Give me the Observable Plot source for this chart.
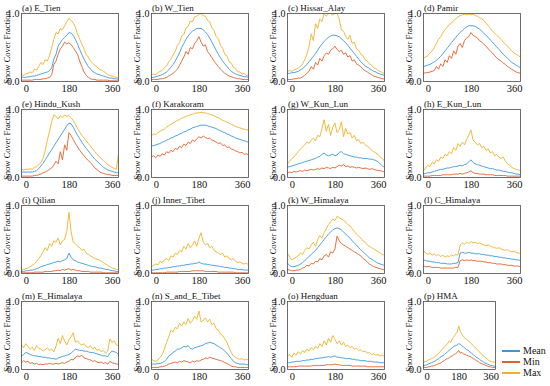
<!DOCTYPE html>
<html><head><meta charset="utf-8">
<script src="https://cdn.jsdelivr.net/npm/d3@7"></script>
<script src="https://cdn.jsdelivr.net/npm/@observablehq/plot@0.6"></script>
<style>
body{margin:0;background:#fff}
#chart{position:relative;width:550px;height:386px;font-family:"Liberation Serif","Times New Roman",serif;overflow:hidden}
#chart svg{position:absolute}
.ttl{position:absolute;font:9px/10px "Liberation Serif",serif;color:#111;white-space:nowrap}
.leg{position:absolute;font:10px/10px "Liberation Serif",serif;color:#111;height:10px;white-space:nowrap}
.leg b{position:absolute;left:0;top:4px;width:18px;height:2px}
.leg span{position:absolute;left:21px;top:0}
</style>
</head><body><div id="chart"></div>
<script>
// day positions of the sampled values (every 9 days)
const days = d3.range(-20, 386, 9);
const xTicks = [0, 180, 360];
const yTicks = [0, 1];
const seriesNames = ["Mean", "Min", "Max"];
const seriesColors = ["#3b97dc", "#e2612b", "#f2b12a"];
const titles = ["(a) E_Tien","(b) W_Tien","(c) Hissar_Alay","(d) Pamir","(e) Hindu_Kush","(f) Karakoram","(g) W_Kun_Lun","(h) E_Kun_Lun","(i) Qilian","(j) Inner_Tibet","(k) W_Himalaya","(l) C_Himalaya","(m) E_Himalaya","(n) S_and_E_Tibet","(o) Hengduan","(p) HMA"];

// values in percent of snow cover
const eTienMean=[7,6,6,7,7,8,8,9,10,11,12,13,14,16,20,33,40,52,57,62,65,68,72,71,68,62,55,47,40,33,27,22,18,15,13,11,10,9,8,7,6,5,5,4,4,3];
const eTienMin=[2,2,2,2,2,2,3,3,3,3,4,4,5,6,10,25,30,40,48,52,58,55,57,54,50,45,40,30,22,14,9,6,4,3,3,2,2,2,2,2,2,1,1,1,1,1];
const eTienMax=[10,9,11,12,14,13,18,17,22,28,25,32,30,38,50,62,72,70,78,76,82,88,93,90,86,80,70,62,55,48,40,36,30,27,24,22,18,17,15,13,10,9,8,7,6,5];
const wTienMean=[6,6,7,8,9,10,12,14,17,21,25,30,36,42,50,56,62,67,71,74,76,78,78,78,76,73,69,64,58,52,46,40,35,30,26,22,18,15,13,11,10,9,8,7,7,6];
const wTienMin=[3,3,3,3,4,4,5,6,8,10,12,15,18,24,30,36,44,40,50,48,56,60,66,58,52,54,44,40,35,30,26,22,18,15,12,10,8,7,6,5,4,4,3,3,3,3];
const wTienMax=[10,11,10,13,15,16,21,23,29,33,39,44,53,57,67,69,79,81,89,88,95,96,99,100,97,96,90,88,79,75,66,63,53,49,40,38,29,27,21,19,14,14,11,12,9,9];
const hissarMean=[12,12,13,13,14,15,17,19,22,25,29,33,37,41,46,51,55,59,62,65,67,68,68,67,66,63,60,57,53,49,45,41,37,33,29,26,23,21,19,17,15,14,12,11,10,9];
const hissarMin=[3,3,3,4,4,5,5,7,9,12,15,22,18,28,24,34,30,38,42,40,46,48,52,47,44,46,40,42,36,38,30,32,26,24,22,18,16,14,12,10,8,7,6,5,4,4];
const hissarMax=[15,16,15,17,18,20,22,26,32,40,52,70,60,85,78,92,88,100,96,100,100,98,100,100,92,76,74,66,62,68,56,58,48,46,40,38,32,30,26,24,20,19,16,15,13,12];
const pamirMean=[22,23,24,25,27,29,31,34,37,41,45,49,53,57,61,65,69,72,75,78,80,82,82,82,81,79,77,74,71,68,65,61,58,54,51,47,44,40,37,34,31,28,26,24,22,20];
const pamirMin=[12,13,13,14,15,16,22,18,26,22,32,28,38,34,45,40,52,56,50,60,64,66,72,68,66,64,60,58,55,52,48,45,42,38,35,32,30,27,25,22,20,18,16,14,13,12];
const pamirMax=[34,36,38,42,45,50,56,62,66,72,76,80,84,86,90,92,95,97,98,99,98,99,98,99,97,96,94,92,90,86,82,78,74,71,68,65,62,58,55,52,48,45,42,40,38,36];
const hinduMean=[8,8,8,8,8,8,9,10,13,17,21,26,31,36,41,46,51,56,61,66,71,76,80,79,74,68,62,57,52,47,43,39,35,31,27,24,21,18,15,13,11,10,9,8,7,7];
const hinduMin=[2,2,2,2,2,2,3,3,4,5,7,8,10,12,14,18,24,20,38,26,48,40,66,62,56,50,45,40,36,32,28,25,22,18,14,12,9,7,6,5,4,4,3,3,3,3];
const hinduMax=[12,11,12,12,13,12,15,16,19,22,28,40,55,68,82,92,90,86,91,88,92,90,91,88,84,78,72,67,62,58,54,50,46,42,38,34,31,28,25,22,19,17,15,13,12,35];
const karaMean=[46,47,48,49,50,52,53,55,56,58,59,61,62,64,65,67,68,70,71,73,74,75,76,77,77,77,76,75,74,73,72,70,69,67,66,64,63,61,60,58,57,56,55,54,53,52];
const karaMin=[30,32,29,33,31,35,33,38,36,40,38,43,41,46,44,49,47,52,50,55,53,57,60,58,61,59,57,58,55,54,52,50,51,47,48,44,45,42,41,39,38,36,37,34,35,33];
const karaMax=[62,64,63,66,68,70,71,74,76,78,80,82,84,85,87,88,90,91,92,93,94,95,95,96,95,95,94,93,92,91,89,88,86,84,83,81,80,78,77,75,74,73,72,71,70,70];
const wKunMean=[15,16,17,18,19,20,21,22,23,24,25,26,27,28,30,31,34,36,33,32,33,34,32,33,37,38,35,34,33,32,31,30,30,29,29,28,28,28,27,27,26,25,23,20,17,15];
const wKunMin=[7,8,7,9,8,9,10,9,11,10,11,12,11,12,13,12,14,13,15,14,13,15,14,16,18,17,19,16,17,15,16,15,14,15,14,13,14,13,12,13,12,11,10,10,9,8];
const wKunMax=[20,24,28,30,34,38,42,45,48,52,50,55,58,54,62,60,72,85,68,78,62,74,80,66,70,82,60,72,64,66,58,62,54,56,50,52,48,46,44,40,38,36,34,30,28,24];
const eKunMean=[5,6,7,7,8,9,10,11,12,12,13,14,14,15,16,16,17,18,17,19,20,23,26,22,20,19,18,17,16,15,14,13,13,12,11,11,10,9,9,8,7,7,6,5,5,4];
const eKunMin=[2,2,2,2,3,3,3,3,3,4,4,4,4,4,5,5,5,6,5,6,7,8,10,7,6,6,5,5,5,4,4,4,4,3,3,3,3,3,3,2,2,2,2,2,2,2];
const eKunMax=[10,14,18,16,22,20,26,24,30,28,34,32,38,35,44,40,50,46,52,48,56,62,70,55,52,48,50,44,46,40,42,36,38,32,34,30,28,30,24,20,18,15,13,12,11,10];
const qilianMean=[3,3,4,4,5,5,6,7,8,10,11,12,13,14,15,16,17,18,17,19,20,22,30,24,20,19,17,16,15,14,13,12,11,10,10,9,8,8,7,6,6,5,4,4,3,3];
const qilianMin=[1,1,1,1,1,1,2,2,2,2,2,3,3,3,3,4,4,5,4,6,5,6,7,5,6,5,4,4,3,3,3,3,2,2,2,2,2,2,1,1,1,1,1,1,1,1];
const qilianMax=[5,6,7,8,10,12,14,18,22,26,32,38,34,44,40,48,46,52,42,48,50,62,90,62,46,44,40,38,34,36,30,28,26,24,22,21,20,18,16,14,12,10,8,7,6,5];
const innerMean=[5,5,6,6,7,7,8,8,9,9,10,10,11,11,12,12,13,13,14,14,15,15,17,15,14,14,13,13,12,12,11,11,10,10,9,9,8,8,7,7,6,6,6,5,5,5];
const innerMin=[1,1,1,1,1,1,1,2,2,2,2,2,2,3,3,3,3,3,3,4,4,4,4,4,4,3,3,3,3,3,3,2,2,2,2,2,2,2,2,1,1,1,1,1,1,1];
const innerMax=[10,12,14,13,18,16,20,22,19,26,24,30,28,34,32,40,36,44,38,42,48,40,52,60,46,42,44,38,40,34,32,30,28,30,24,26,22,20,22,18,16,17,15,14,15,13];
const wHimMean=[15,12,10,10,11,12,14,16,19,22,25,28,31,34,38,42,46,50,54,58,61,64,66,67,66,64,61,58,55,52,48,45,42,38,35,32,29,26,23,21,19,17,15,14,13,12];
const wHimMin=[6,5,4,4,5,5,6,8,9,12,11,15,14,18,17,22,20,26,28,24,32,30,36,55,48,44,42,40,38,36,34,32,30,28,26,22,20,17,14,12,10,9,8,7,6,6];
const wHimMax=[30,24,20,22,24,26,30,28,34,38,36,42,46,40,50,56,52,60,66,72,76,80,78,84,82,80,78,76,72,70,66,62,58,55,52,48,46,42,40,38,36,34,32,30,28,27];
const cHimMean=[20,19,18,18,17,17,16,16,15,15,15,14,14,14,15,15,16,30,31,30,30,31,30,30,29,29,29,28,28,27,27,26,26,25,25,24,24,23,23,22,22,21,21,20,20,19];
const cHimMin=[11,10,10,10,9,9,9,9,8,8,8,8,8,8,8,9,9,19,20,19,20,19,20,19,19,18,18,18,17,17,16,16,15,15,14,14,14,13,13,12,12,12,11,11,11,10];
const cHimMax=[34,30,28,30,27,29,26,28,25,27,24,26,25,27,26,28,27,42,45,43,46,44,47,45,46,44,45,43,42,41,42,40,39,38,37,38,36,35,34,35,33,32,33,31,30,30];
const eHimMean=[20,22,25,24,22,21,20,20,19,19,18,18,17,17,16,16,15,17,18,19,20,21,22,24,27,30,29,28,28,27,27,26,25,25,24,23,22,21,20,20,19,24,27,26,25,22];
const eHimMin=[10,13,11,12,9,10,8,9,7,8,7,8,8,9,8,8,9,8,9,10,9,11,12,15,14,18,20,19,21,17,16,15,14,12,13,11,10,11,9,10,8,12,10,9,8,8];
const eHimMax=[36,32,38,34,30,33,28,35,31,30,27,29,32,28,30,26,34,46,38,50,42,36,44,48,54,40,42,38,36,38,34,32,35,30,33,28,30,26,28,24,27,45,40,42,36,35];
const seTibMean=[8,8,8,9,9,10,12,15,20,22,25,27,30,30,32,34,33,35,31,30,32,33,34,35,36,38,39,40,39,38,36,34,32,30,27,24,20,16,12,10,9,8,8,8,7,7];
const seTibMin=[3,3,3,3,4,4,5,6,8,9,10,11,10,12,11,13,12,11,10,12,11,13,12,14,15,17,16,18,17,16,15,14,13,12,10,9,7,5,4,4,3,3,3,3,3,3];
const seTibMax=[15,13,12,14,18,22,30,40,48,58,55,62,60,68,64,70,66,75,68,72,78,74,86,70,72,76,70,74,66,68,60,58,52,50,45,40,32,25,20,18,16,15,16,14,15,14];
const hengMean=[10,10,11,11,12,12,12,13,13,14,14,15,15,16,16,17,17,18,18,19,18,19,20,18,18,17,17,16,16,16,15,15,14,14,13,13,13,12,12,12,11,11,11,10,10,10];
const hengMin=[4,4,4,4,4,5,5,5,5,5,5,5,6,6,6,6,6,6,7,7,7,7,8,7,7,6,6,6,6,6,5,5,5,5,5,5,5,4,4,4,4,4,4,4,4,4];
const hengMax=[20,22,18,24,21,26,23,28,25,30,27,32,29,34,31,38,34,42,36,46,40,50,44,38,42,36,40,34,36,32,34,30,31,28,29,26,27,24,25,22,23,21,22,20,21,19];
const hmaMean=[6,6,7,8,9,10,11,12,14,15,17,19,20,22,24,26,28,30,32,34,35,36,38,37,35,33,31,29,28,26,24,22,20,18,17,15,13,12,10,9,8,7,6,6,5,5];
const hmaMin=[3,3,3,4,4,5,5,6,7,8,9,10,12,13,15,16,17,19,20,22,23,25,28,24,25,23,22,21,20,19,18,16,15,13,12,10,9,8,7,6,5,4,4,3,3,3];
const hmaMax=[11,12,12,14,15,16,17,19,21,23,25,28,30,33,35,38,42,40,45,48,52,55,64,56,52,48,46,44,42,40,38,35,33,31,28,26,23,21,19,17,15,13,12,11,11,10];

const panelSeries = [
  [eTienMean,eTienMin,eTienMax],[wTienMean,wTienMin,wTienMax],[hissarMean,hissarMin,hissarMax],[pamirMean,pamirMin,pamirMax],
  [hinduMean,hinduMin,hinduMax],[karaMean,karaMin,karaMax],[wKunMean,wKunMin,wKunMax],[eKunMean,eKunMin,eKunMax],
  [qilianMean,qilianMin,qilianMax],[innerMean,innerMin,innerMax],[wHimMean,wHimMin,wHimMax],[cHimMean,cHimMin,cHimMax],
  [eHimMean,eHimMin,eHimMax],[seTibMean,seTibMin,seTibMax],[hengMean,hengMin,hengMax],[hmaMean,hmaMin,hmaMax]
];

const colLeft = [21, 151, 287, 423];
const rowTop = [13, 109, 205, 301];
const chart = document.getElementById("chart");
const mL = 26, mR = 6, mT = 14, mB = 18;

panelSeries.forEach((ser, i) => {
  const col = i % 4, row = Math.floor(i / 4);
  const fw = i === 15 ? 72 : 97, fh = 68;
  const data = [];
  ser.forEach((vals, s) => vals.forEach((v, k) => data.push({day: days[k], v: v / 100, s: seriesNames[s]})));
  const svg = Plot.plot({
    width: fw + mL + mR, height: fh + mT + mB,
    marginLeft: mL, marginRight: mR, marginTop: mT, marginBottom: mB,
    style: {background: "transparent", overflow: "visible", fontFamily: "'Liberation Serif', serif", fontSize: "10px", color: "#111"},
    x: {domain: [-20, 385]},
    y: {domain: [0, 1]},
    color: {domain: seriesNames, range: seriesColors},
    marks: [
      Plot.axisX({ticks: xTicks, tickSize: 0, tickPadding: 3, label: null, fontSize: 10.5}),
      Plot.axisY({ticks: yTicks, tickSize: 0, tickPadding: 2, label: null, fontSize: 10}),
      Plot.line(data, {x: "day", y: "v", z: "s", stroke: "s", strokeWidth: 0.9, clip: true}),
      Plot.frame({stroke: "#4a4a4a", strokeWidth: 0.8}),
      Plot.text(["Snow Cover Fraction"], {frameAnchor: "left", rotate: -90, dx: -14.5, textAnchor: "middle", lineAnchor: "middle", fontSize: 8.5, fill: "#111"})
    ]
  });
  svg.style.left = (colLeft[col] - mL) + "px";
  svg.style.top = (rowTop[row] - mT) + "px";
  chart.appendChild(svg);
  const t = document.createElement("div");
  t.className = "ttl";
  t.textContent = titles[i];
  t.style.left = (colLeft[col] + 1) + "px";
  t.style.top = (rowTop[row] - 10) + "px";
  chart.appendChild(t);
});

// legend
seriesNames.forEach((n, k) => {
  const d = document.createElement("div");
  d.className = "leg";
  d.style.left = "502px";
  d.style.top = (346 + 11 * k) + "px";
  d.innerHTML = `<b style="background:${seriesColors[k]}"></b><span>${n}</span>`;
  chart.appendChild(d);
});
</script>
</body></html>
